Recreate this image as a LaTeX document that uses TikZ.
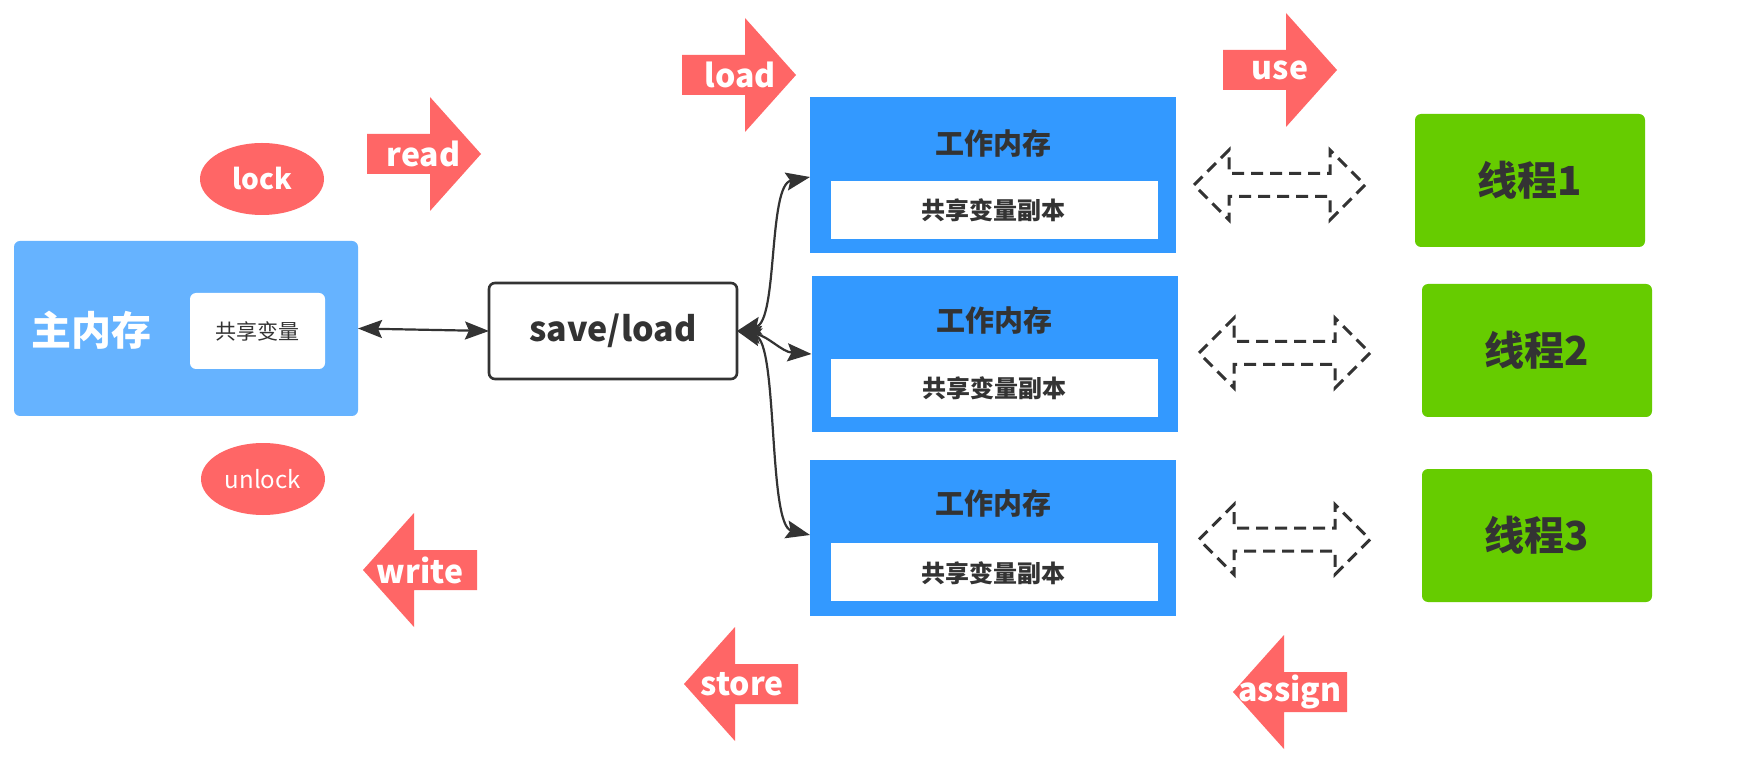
\documentclass[tikz,border=0pt]{standalone}
\usepackage{fontspec}
\setmainfont{Noto Sans CJK SC}
\usetikzlibrary{arrows.meta,shapes.geometric}
\definecolor{redA}{HTML}{FF6666}
\definecolor{lblue}{HTML}{66B3FF}
\definecolor{wblue}{HTML}{3399FF}
\definecolor{gthread}{HTML}{66CC00}
\definecolor{darkc}{HTML}{333333}
\tikzset{
  box/.style={rectangle, inner sep=0pt, outer sep=0pt},
  mainbox/.style={box, fill=lblue, rounded corners=3pt, minimum width=172pt, minimum height=87.5pt},
  whitebox/.style={box, fill=white, rounded corners=3pt},
  wmbox/.style={box, fill=wblue, minimum width=183pt, minimum height=78pt},
  wminner/.style={box, fill=white, minimum width=163.5pt, minimum height=29pt},
  thread/.style={box, fill=gthread, rounded corners=3pt, minimum width=115pt, minimum height=66.5pt,
    text=darkc, font=\bfseries\fontsize{20pt}{24pt}\selectfont},
  savebox/.style={box, draw=darkc, line width=1.3pt, fill=white, rounded corners=3pt,
    minimum width=124pt, minimum height=48pt, text=darkc, font=\bfseries\fontsize{17pt}{20pt}\selectfont},
  oval/.style={ellipse, fill=redA, inner sep=0pt, minimum width=62pt, minimum height=36pt, text=white},
  arrlabel/.style={text=white, inner sep=0pt, font=\bfseries\fontsize{16pt}{19pt}\selectfont},
  wmtitle/.style={text=darkc, inner sep=0pt, font=\bfseries\fontsize{14.5pt}{17pt}\selectfont},
  wmtext/.style={text=darkc, inner sep=0pt, font=\bfseries\fontsize{12pt}{14pt}\selectfont},
  conn/.style={draw=darkc, line width=1.1pt, {Stealth[length=12pt,width=9pt,inset=2pt]}-{Stealth[length=12pt,width=9pt,inset=2pt]}},
  rarr/.pic={\fill[redA] (-63,-20) -- (0,-20) -- (0,-57) -- (51,0) -- (0,57) -- (0,20) -- (-63,20) -- cycle;},
  larr/.pic={\fill[redA] (63,-20) -- (0,-20) -- (0,-57) -- (-51,0) -- (0,57) -- (0,20) -- (63,20) -- cycle;},
  dblarr/.pic={\draw[darkc, line width=1.5pt, dash pattern=on 6pt off 3.5pt]
    (-85.5,0) -- (-50.5,-35) -- (-50.5,-11.5) -- (50.5,-11.5) -- (50.5,-35) -- (85.5,0)
    -- (50.5,35) -- (50.5,11.5) -- (-50.5,11.5) -- (-50.5,35) -- cycle;}
}
\begin{document}
\begin{tikzpicture}[x=0.5pt,y=-0.5pt]
\useasboundingbox (0,0) rectangle (1750,780);
\fill[white] (0,0) rectangle (1750,780);

% main memory
\node[mainbox] (main) at (186,328.5) {};
\node[text=white, inner sep=0pt, font=\bfseries\fontsize{20pt}{24pt}\selectfont] (maint) at (91.5,330) {主内存};
\node[whitebox, minimum width=67.5pt, minimum height=38pt, text=darkc, font=\fontsize{10.5pt}{12pt}\selectfont] (shared) at (257.5,331) {共享变量};

% lock / unlock
\node[oval, font=\bfseries\fontsize{14pt}{17pt}\selectfont] (lock) at (262,179) {lock};
\node[oval, font=\fontsize{12pt}{14pt}\selectfont] (unlock) at (263,479) {unlock};

% save/load
\node[savebox] (save) at (613,331) {save/load};

% working memories
\node[wmbox] (wm1) at (993,175.5) {};
\node[wminner] (in1) at (994.5,210) {};
\node[wmtitle] (t1) at (993,143) {工作内存};
\node[wmtext] (s1) at (993,210) {共享变量副本};

\node[wmbox] (wm2) at (994.5,354) {};
\node[wminner] (in2) at (994.5,388) {};
\node[wmtitle] (t2) at (994,320) {工作内存};
\node[wmtext] (s2) at (994,388) {共享变量副本};

\node[wmbox] (wm3) at (993,538) {};
\node[wminner] (in3) at (994.5,572) {};
\node[wmtitle] (t3) at (993,503) {工作内存};
\node[wmtext] (s3) at (993,573) {共享变量副本};

% threads
\node[thread] (th1) at (1530,180.5) {线程1};
\node[thread] (th2) at (1537,350.5) {线程2};
\node[thread] (th3) at (1537,535.5) {线程3};

% dashed double arrows
\pic at (1279.5,185) {dblarr};
\pic at (1284.5,353) {dblarr};
\pic at (1284.5,539.5) {dblarr};

% red operation arrows
\pic at (430,154) {rarr};
\node[arrlabel] (read) at (423.5,154) {read};
\pic at (745,75) {rarr};
\node[arrlabel] (load) at (740,75) {load};
\pic at (1286,70) {rarr};
\node[arrlabel] (use) at (1280,70) {use};
\pic at (414,570) {larr};
\node[arrlabel] (write) at (420,570) {write};
\pic at (735,684) {larr};
\node[arrlabel] (store) at (742,684) {store};
\pic at (1284,692) {larr};
\node[arrlabel] (assign) at (1290,692) {assign};

% connectors
\draw[conn] (main.east) -- (save.west);
\draw[conn] (save.east) .. controls (778,322) and (768,185) .. ([yshift=-0.75pt]wm1.west);
\draw[conn] (save.east) .. controls (768,336) and (782,352) .. (wm2.west);
\draw[conn] (save.east) .. controls (778,342) and (768,525) .. ([yshift=1.5pt]wm3.west);
\end{tikzpicture}
\end{document}
